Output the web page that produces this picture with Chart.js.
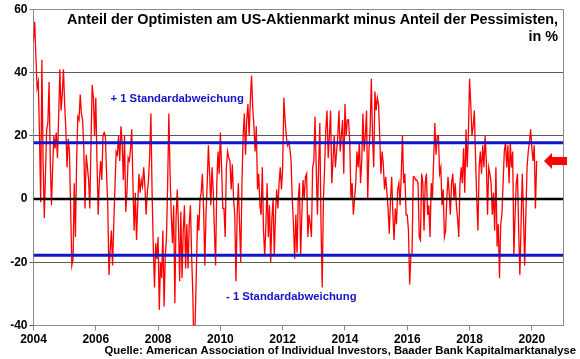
<!DOCTYPE html>
<html><head><meta charset="utf-8">
<script src="https://cdn.jsdelivr.net/npm/chart.js@4.4.1/dist/chart.umd.min.js"></script>
<style>html,body{margin:0;padding:0;background:#fff;}#wrap{width:580px;height:359px;position:relative;}</style>
</head><body><div id="wrap"><canvas id="c" width="580" height="359"></canvas></div>
<script>
// Bull-bear spread (biweekly readings, %), one array per year
const y2004 = [50,56,45,35,37,20,-1,44,12,-6,8,22,24,37,12,-2,10,20,16,21,13,26,41,28,33,41];
const y2005 = [30,22,10,19,15,-3,-21,-19,5,-12,12,26,25,33,27,25,16,-3,14,10,6,-3,18,36,32,20];
const y2006 = [32,12,-5,6,12,6,20,21,20,8,-2,-24,-16,-10,-21,-8,4,15,14,20,12,23,18,6,20,-4];
const y2007 = [2,13,12,16,22,5,-10,2,-13,-2,8,2,6,4,10,4,-5,2,6,14,27,2,-15,-28,-14,-19];
const y2008 = [-12,-35,-20,-25,-10,-34,-18,-12,5,27,8,-5,-14,-2,-33,-6,3,-8,-26,-4,-25,-10,-2,-22,-8,-22];
const y2009 = [-8,-2,-18,-30,-51,-38,-22,-5,-10,0,2,8,-3,-21,-5,5,17,8,-2,10,3,-10,-21,5,15,8];
const y2010 = [21,10,-3,-3,-12,10,15,13,12,3,11,0,-5,-26,-5,5,-8,-20,5,20,27,14,25,30,20,31];
const y2011 = [39,29,23,15,23,3,8,-2,-5,10,-10,-18,-8,5,-12,-2,-20,-6,0,-18,-5,3,-3,5,10,3];
const y2012 = [10,32,25,20,17,18,16,12,0,-8,-19,-5,-17,0,5,-18,-5,6,0,7,8,-12,-5,-8,-12,10];
const y2013 = [12,26,10,-5,10,24,-8,-28,0,10,22,28,13,20,28,5,12,20,10,15,20,28,15,20,25,8];
const y2014 = [30,20,25,25,18,0,5,-5,0,5,15,10,18,5,12,27,15,20,28,0,15,22,38,20,10,34];
const y2015 = [28,32,30,20,8,15,11,3,7,2,-3,-11,0,7,-5,-13,-3,-8,3,5,-2,8,20,5,8,-5];
const y2016 = [-5,-10,-27,-18,-17,7,7,6,6,5,-12,-13,8,5,-10,5,8,-5,-2,-12,5,0,12,24,14,20];
const y2017 = [20,8,10,-2,3,-12,-10,0,7,2,-5,5,8,0,5,-2,-6,-12,5,10,5,16,2,22,10,20];
const y2018 = [38,30,20,23,28,13,0,-10,10,15,8,17,10,20,12,-5,10,8,5,-5,2,-10,10,-15,-8,-25];
const y2019 = [-8,-5,5,15,18,10,17,5,18,10,15,-18,-5,5,8,-10,-24,-8,8,-5,-21,-5,10,15,18,22];
const y2020 = [16,12,17,-3,12];
const readingsPerYear = 26;

const stdPlus = 17.8;
const stdMinus = -17.8;
const xTicks = [2004,2006,2008,2010,2012,2014,2016,2018,2020];
const yTicks = [-40,-20,0,20,40,60];
const titleLines = ["Anteil der Optimisten am US-Aktienmarkt minus Anteil der Pessimisten,", "in %"];
const bandLabels = ["+ 1 Standardabweichung", "- 1 Standardabweichung"];
const sourceText = "Quelle: American Association of Individual Investors, Baader Bank Kapitalmarktanalyse";

const yearly = [[2004,y2004],[2005,y2005],[2006,y2006],[2007,y2007],[2008,y2008],[2009,y2009],[2010,y2010],[2011,y2011],[2012,y2012],[2013,y2013],[2014,y2014],[2015,y2015],[2016,y2016],[2017,y2017],[2018,y2018],[2019,y2019],[2020,y2020]];
const spread = [];
yearly.forEach(([yr, vals]) => vals.forEach((v, i) => spread.push({x: yr + i / readingsPerYear, y: v})));
const lastValue = spread[spread.length - 1].y;

const FONT = "'Liberation Sans', Arial, sans-serif";
const BLUE = 'rgb(20,20,200)';

const overlay = {
  id: 'overlay',
  afterDraw(chart) {
    const ctx = chart.ctx, a = chart.chartArea;
    const xs = chart.scales.x, ys = chart.scales.y;
    ctx.save();
    // right border
    ctx.strokeStyle = '#8a8a8a'; ctx.lineWidth = 1;
    ctx.beginPath(); ctx.moveTo(Math.round(a.right) + 0.5, a.top); ctx.lineTo(Math.round(a.right) + 0.5, a.bottom); ctx.stroke();
    // title
    ctx.fillStyle = '#000'; ctx.font = "bold 14.4px " + FONT;
    ctx.textAlign = 'right'; ctx.textBaseline = 'middle';
    ctx.fillText(titleLines[0], 558, 20);
    ctx.fillText(titleLines[1], 558, 37);
    // band labels
    ctx.fillStyle = BLUE; ctx.font = "bold 11.3px " + FONT; ctx.textAlign = 'left';
    ctx.fillText(bandLabels[0], xs.getPixelForValue(2006.47), ys.getPixelForValue(31.7));
    ctx.fillText(bandLabels[1], xs.getPixelForValue(2010.18), ys.getPixelForValue(-30.8));
    // source
    ctx.fillStyle = '#000'; ctx.font = "bold 11.3px " + FONT; ctx.textAlign = 'right';
    ctx.fillText(sourceText, 576, 351);
    // arrow pointing at the latest reading
    const ay = ys.getPixelForValue(lastValue);
    const tip = a.right - 19;
    ctx.fillStyle = '#ff0000';
    ctx.beginPath();
    ctx.moveTo(tip, ay);
    ctx.lineTo(tip + 8, ay - 8);
    ctx.lineTo(tip + 8, ay - 4);
    ctx.lineTo(tip + 23, ay - 4);
    ctx.lineTo(tip + 23, ay + 4);
    ctx.lineTo(tip + 8, ay + 4);
    ctx.lineTo(tip + 8, ay + 8);
    ctx.closePath(); ctx.fill();
    ctx.restore();
  }
};

new Chart(document.getElementById('c'), {
  type: 'line',
  data: {
    datasets: [
      {data: spread, borderColor: '#ff0000', borderWidth: 1.3, pointRadius: 0, tension: 0, order: 3},
      {data: [{x: 2004, y: stdPlus}, {x: 2021, y: stdPlus}], borderColor: BLUE, borderWidth: 3, pointRadius: 0, order: 1},
      {data: [{x: 2004, y: stdMinus}, {x: 2021, y: stdMinus}], borderColor: BLUE, borderWidth: 3, pointRadius: 0, order: 1},
      {data: [{x: 2004, y: 0}, {x: 2021, y: 0}], borderColor: '#000', borderWidth: 2.5, pointRadius: 0, order: 0}
    ]
  },
  options: {
    responsive: false, animation: false, devicePixelRatio: 1,
    layout: {padding: {top: 9, right: 17, left: 0, bottom: 0}},
    plugins: {legend: {display: false}, tooltip: {enabled: false}},
    scales: {
      x: {
        type: 'linear', min: 2004, max: 2021,
        afterBuildTicks: s => { s.ticks = xTicks.map(v => ({value: v})); },
        afterFit: s => { s.height = 33.5; },
        ticks: {color: '#000', font: {family: FONT, size: 12, weight: 'bold'}, padding: 2, maxRotation: 0, autoSkip: false, callback: v => String(v)},
        grid: {drawOnChartArea: false, drawTicks: true, tickLength: 5, color: '#8a8a8a'},
        border: {color: '#8a8a8a', width: 1}
      },
      y: {
        min: -40, max: 60,
        afterBuildTicks: s => { s.ticks = yTicks.map(v => ({value: v})); },
        afterFit: s => { s.width = 33.5; },
        ticks: {color: '#000', font: {family: FONT, size: 12, weight: 'bold'}, padding: 2},
        grid: {
          tickLength: 4,
          color: c => (c.tick && c.tick.value === 60) ? '#8a8a8a' : (c.tick && c.tick.value === 0 ? 'rgba(0,0,0,0)' : '#5a5a5a'),
          lineWidth: 1
        },
        border: {color: '#8a8a8a', width: 1}
      }
    }
  },
  plugins: [overlay]
});
</script></body></html>
